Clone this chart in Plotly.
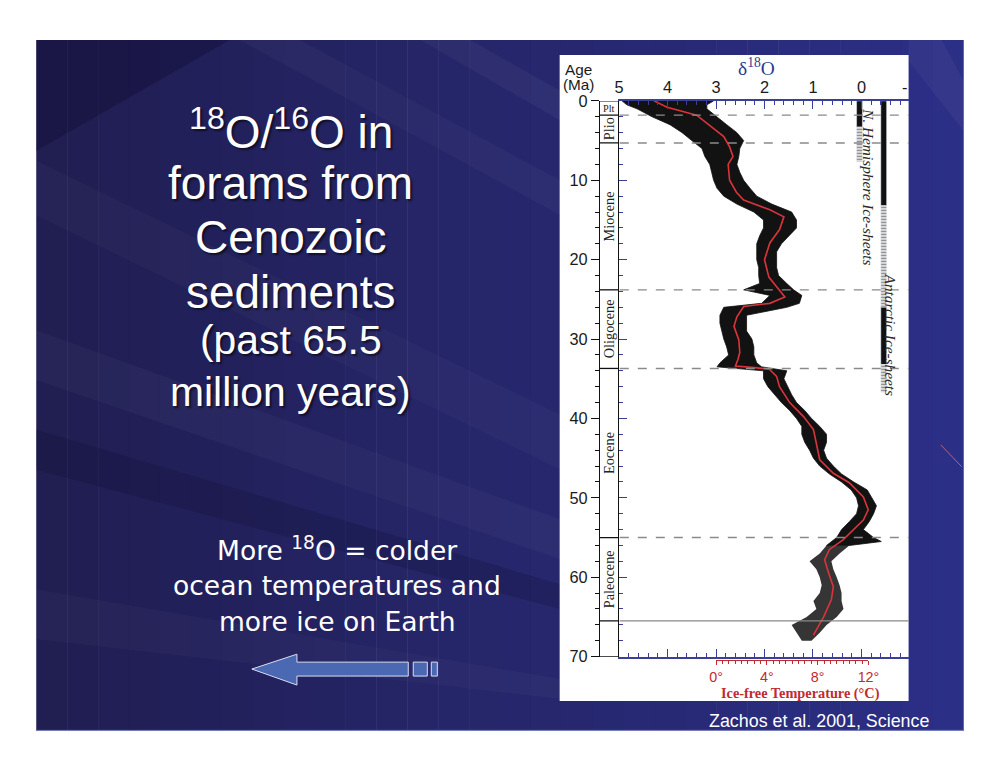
import plotly.graph_objects as go

# page geometry: body margin of 8px, and the photographed page comes out scaled by ~0.979,
# so positions are given in reference-picture pixels and converted below
OFF = 8
S = 0.979
W, H = 980, 748

# ---------------- data ----------------
age_ticks = [0, 10, 20, 30, 40, 50, 60, 70]
d18o_ticks = [5, 4, 3, 2, 1, 0]
temp_ticks = [0, 4, 8, 12]
temp_labels = ["0°", "4°", "8°", "12°"]

# smoothed (red) curve: age (Ma) and delta18O (per mil)
smooth_age = [0, 0.8, 1.8, 2.6, 3.4, 4.5, 5.8, 7.0, 8.0, 10.0, 11.5, 12.5, 13.7, 14.6, 16.2, 17.9, 20.0,
              22.2, 23.4, 24.7, 25.5, 25.9, 27.2, 28.4, 30.1, 31.7, 32.6, 33.4, 33.6, 33.8, 34.7, 36.0,
              38.0, 39.8, 41.4, 43.1, 45.2, 46.9, 48.1, 49.9, 51.5, 52.8, 54.0, 55.3, 56.5, 57.8, 59.4,
              61.2, 62.8, 65.0, 67.3]
smooth_d18o = [4.28, 4.01, 3.40, 3.23, 3.05, 2.84, 2.72, 2.65, 2.75, 2.72, 2.58, 2.43, 1.89, 1.60, 1.69,
               1.89, 2.00, 1.91, 1.75, 1.58, 1.89, 2.43, 2.57, 2.63, 2.53, 2.51, 2.55, 2.60, 2.20, 1.90,
               1.75, 1.69, 1.48, 1.19, 0.99, 0.93, 0.86, 0.58, 0.25, -0.04, -0.14, -0.04, 0.16, 0.38,
               0.66, 0.76, 0.68, 0.58, 0.62, 0.78, 0.99]

# envelope of the raw data cloud (black): heavy edge and light edge
env_age = [0, 0.5, 1, 2, 3, 4, 5, 6, 7, 8, 9, 10, 11, 12, 13, 14, 15, 16, 17, 18, 19, 20, 21, 22, 23,
           23.8, 24.5, 25.5, 26, 27, 28, 29, 30, 31, 32, 33, 33.5, 34, 35, 36, 37, 38, 39, 40, 41, 42,
           43, 44, 45, 46, 47, 48, 49, 50, 51, 52, 53, 54, 55, 55.5, 56, 57, 58, 59, 60, 61, 62, 63,
           64, 65, 66, 67, 68]
env_high = [4.94, 4.84, 4.63, 4.32, 3.95, 3.70, 3.50, 3.29, 3.23, 3.13, 3.09, 3.05, 2.98, 2.84, 2.57,
            2.22, 2.02, 2.02, 2.10, 2.16, 2.16, 2.16, 2.12, 2.12, 2.10, 2.43, 1.89, 2.06, 2.84, 2.92,
            2.92, 2.88, 2.84, 2.78, 2.74, 2.92, 2.98, 2.02, 2.02, 1.93, 1.79, 1.65, 1.48, 1.34, 1.23,
            1.23, 1.17, 1.07, 0.99, 0.86, 0.66, 0.41, 0.21, 0.10, 0.06, 0.10, 0.25, 0.41, 0.51, 0.62,
            0.72, 0.86, 1.07, 0.93, 0.86, 0.82, 0.86, 0.99, 0.93, 1.13, 1.44, 1.34, 1.23]
env_low = [3.05, 3.19, 3.19, 2.98, 2.78, 2.57, 2.43, 2.51, 2.53, 2.57, 2.51, 2.43, 2.30, 2.16, 1.85,
           1.44, 1.34, 1.34, 1.50, 1.65, 1.75, 1.75, 1.75, 1.71, 1.54, 1.40, 1.23, 1.28, 1.54, 2.37,
           2.37, 2.37, 2.26, 2.22, 2.22, 2.16, 2.06, 1.54, 1.60, 1.52, 1.44, 1.34, 1.17, 1.03, 0.86,
           0.72, 0.72, 0.78, 0.72, 0.58, 0.41, 0.16, -0.12, -0.21, -0.31, -0.25, -0.16, -0.04, -0.25,
           -0.41, 0.25, 0.45, 0.62, 0.58, 0.51, 0.45, 0.41, 0.41, 0.37, 0.51, 0.72, 0.86, 1.03]

# epochs
epoch_names = ["Plt", "Plio", "Miocene", "Oligocene", "Eocene", "Paleocene"]
epoch_start = [0, 1.8, 5.3, 23.8, 33.7, 55.0]
epoch_end = [1.8, 5.3, 23.8, 33.7, 55.0, 65.5]

# ice-sheet bars (age ranges)
nh_start = [0.0, 3.3]
nh_end = [3.3, 7.7]
nh_kind = ["solid", "hatch"]
aa_start = [0.0, 13.2, 26.0, 33.2]
aa_end = [13.2, 26.0, 33.2, 36.7]
aa_kind = ["solid", "hatch", "solid", "hatch"]
nh_pos, aa_pos = 0.04, -0.46

# ---------------- helpers (reference pixels -> paper coords) ----------------
def px(x):
    return (x / S - OFF) / W


def py(y):
    return 1 - (y / S - OFF) / H


def f(v):
    return v / S


BLUE_AX = "#3a3f98"
RED = "#c22a30"
SANS = "Liberation Sans, Arial, sans-serif"
NARROW = "Liberation Sans Narrow, Arial Narrow, Liberation Sans, Arial"
SERIF = "Liberation Serif, Times New Roman, serif"

fig = go.Figure()

# black data cloud: dense part solid, sparse older part lighter
cut = env_age.index(56)
a1, h1, l1 = env_age[:cut + 1], env_high[:cut + 1], env_low[:cut + 1]
a2, h2, l2 = env_age[cut:], env_high[cut:], env_low[cut:]
fig.add_trace(go.Scatter(x=h1 + l1[::-1], y=a1 + a1[::-1], fill="toself", fillcolor="#121212",
                         mode="lines", line=dict(color="#121212", width=0.8), hoverinfo="skip"))
fig.add_trace(go.Scatter(x=h2 + l2[::-1], y=a2 + a2[::-1], fill="toself", fillcolor="rgba(18,18,18,0.85)",
                         mode="lines", line=dict(width=0), hoverinfo="skip"))
# red smoothed curve
fig.add_trace(go.Scatter(x=smooth_d18o, y=smooth_age, mode="lines",
                         line=dict(color="#d8343a", width=f(1.6)), hoverinfo="skip"))

# ice-sheet bars
def add_bars(pos, starts, ends, kinds):
    for s, e, k in zip(starts, ends, kinds):
        if k == "solid":
            marker = dict(color="#111111")
        else:
            marker = dict(color="white", pattern=dict(shape="-", fgcolor="#111111", bgcolor="white",
                                                      size=3, solidity=0.55))
        fig.add_trace(go.Bar(x=[pos], y=[e - s], base=[s], width=0.12, marker=marker,
                             hoverinfo="skip"))


add_bars(nh_pos, nh_start, nh_end, nh_kind)
add_bars(aa_pos, aa_start, aa_end, aa_kind)

# dummy traces so the extra axes exist
fig.add_trace(go.Scatter(x=temp_ticks, y=[None] * len(temp_ticks), xaxis="x2", yaxis="y",
                         mode="markers", hoverinfo="skip"))
fig.add_trace(go.Scatter(x=[None] * len(age_ticks), y=age_ticks, xaxis="x", yaxis="y2",
                         mode="markers", hoverinfo="skip"))

# ---------------- shapes ----------------
shapes = []
x0s, x1s = 37, 962
n = 30
c0 = (0x21, 0x1e, 0x52)
c1 = (0x2c, 0x2f, 0x86)
for i in range(n):
    t = i / (n - 1)
    c = tuple(int(c0[k] + (c1[k] - c0[k]) * t) for k in range(3))
    xa = x0s + (x1s - x0s) * i / n
    xb = x0s + (x1s - x0s) * (i + 1) / n + 0.5
    shapes.append(dict(type="rect", xref="paper", yref="paper", x0=px(xa), x1=px(min(xb, x1s)),
                       y0=py(732), y1=py(39), fillcolor="rgb(%d,%d,%d)" % c, line=dict(width=0),
                       layer="below"))


def poly(pts, fill):
    d = "M " + " L ".join("%.4f,%.4f" % (px(x), py(y)) for x, y in pts) + " Z"
    shapes.append(dict(type="path", path=d, xref="paper", yref="paper", fillcolor=fill,
                       line=dict(width=0), layer="below"))


# diagonal streaks (subtle)
poly([(37, 39), (230, 39), (37, 150)], "rgba(10,8,40,0.30)")
poly([(240, 39), (300, 39), (560, 180), (560, 215)], "rgba(255,255,255,0.03)")
poly([(420, 39), (470, 39), (560, 90), (560, 120)], "rgba(255,255,255,0.04)")
poly([(37, 160), (37, 215), (560, 470), (560, 415)], "rgba(255,255,255,0.025)")
poly([(37, 330), (37, 380), (560, 560), (560, 520)], "rgba(255,255,255,0.03)")
poly([(37, 430), (37, 470), (560, 610), (560, 585)], "rgba(10,8,40,0.20)")
poly([(37, 590), (37, 640), (560, 700), (560, 680)], "rgba(255,255,255,0.025)")
poly([(907, 39), (940, 39), (962, 80), (962, 130), (907, 60)], "rgba(255,255,255,0.04)")
shapes.append(dict(type="line", xref="paper", yref="paper", x0=px(37), x1=px(962), y0=py(731.5),
                   y1=py(731.5), line=dict(color="#8088c0", width=1), layer="below"))
shapes.append(dict(type="line", xref="paper", yref="paper", x0=px(939), x1=px(960), y0=py(445),
                   y1=py(467), line=dict(color="#b0648c", width=1), layer="below"))
# white chart panel
shapes.append(dict(type="rect", xref="paper", yref="paper", x0=px(559), x1=px(907), y0=py(702),
                   y1=py(54), fillcolor="white", line=dict(width=0), layer="below"))

# epoch column lines
col_l, col_r = px(598.3), px(618.3)
for a in [0] + epoch_end + [70]:
    shapes.append(dict(type="line", xref="paper", yref="y", x0=col_l, x1=col_r, y0=a, y1=a,
                       line=dict(color="#111111", width=1.3)))
for a in epoch_end[:-1]:
    shapes.append(dict(type="line", xref="paper", yref="y", x0=px(619), x1=px(907), y0=a, y1=a,
                       line=dict(color="#8a8a8a", width=1.4, dash="dash")))
shapes.append(dict(type="line", xref="paper", yref="y", x0=px(619), x1=px(907), y0=epoch_end[-1],
                   y1=epoch_end[-1], line=dict(color="#8a8a8a", width=1.4)))

# arrow
arrow = [(252, 670), (297, 655), (297, 663), (408, 663), (408, 677), (297, 677), (297, 686)]
d = "M " + " L ".join("%.4f,%.4f" % (px(x), py(y)) for x, y in arrow) + " Z"
shapes.append(dict(type="path", path=d, xref="paper", yref="paper", fillcolor="#4b69b2",
                   line=dict(color="#d8def0", width=1)))
for xa, xb in [(413, 427), (431, 437)]:
    shapes.append(dict(type="rect", xref="paper", yref="paper", x0=px(xa), x1=px(xb), y0=py(677),
                       y1=py(663), fillcolor="#4b69b2", line=dict(color="#d8def0", width=1)))

# ---------------- annotations ----------------
ann = []


def txt(text, x, y, size, color="white", family=SANS, xanchor="center", yanchor="middle",
        angle=0, shadow=None, xref="paper", yref="paper"):
    fo = dict(size=f(size), color=color, family=family)
    if shadow:
        fo["shadow"] = shadow
    ann.append(dict(text=text, x=x, y=y, xref=xref, yref=yref, showarrow=False, font=fo,
                    xanchor=xanchor, yanchor=yanchor, textangle=angle))


SH = "2px 2px 2px rgba(0,0,0,0.55)"
title_lines = [("<sup>18</sup>O/<sup>16</sup>O in", 128, 45), ("forams from", 182, 45),
               ("Cenozoic", 237, 45), ("sediments", 292, 45), ("(past 65.5", 340, 40),
               ("million years)", 392, 40)]
for t, yy, s in title_lines:
    txt(t, px(291), py(yy), s, shadow=SH)

for t, yy in [("More <sup>18</sup>O = colder", 550), ("ocean temperatures and", 586),
              ("more ice on Earth", 622)]:
    txt(t, px(337), py(yy), 26, family="DejaVu Sans, Verdana, sans-serif")

txt("Zachos et al. 2001, Science", px(818), py(722), 17.5)

txt("Age", px(562), py(69), 15, color="#1a1a1a", family=NARROW, xanchor="left")
txt("(Ma)", px(560), py(84), 15, color="#1a1a1a", family=NARROW, xanchor="left")
txt("δ<sup>18</sup>O", px(755), py(66), 19, color="#2b3a8f", family=SERIF)
txt("-", px(907), py(86), 16, color="#1a1a1a", family=NARROW, xanchor="right")

for name, s, e in zip(epoch_names, epoch_start, epoch_end):
    if name == "Plt":
        txt(name, px(608.3), (s + e) / 2, 10, color="#222", family=SERIF, yref="y")
    else:
        txt(name, px(608.3), (s + e) / 2, 14, color="#222", family=SERIF, angle=-90, yref="y")

txt("<i>N. Hemisphere Ice-sheets</i>", px(867), py(186), 15, color="#2a2a2a", family=SERIF, angle=90)
txt("<i>Antarctic Ice-sheets</i>", px(889), py(334), 15, color="#2a2a2a", family=SERIF, angle=90)
txt("<b>Ice-free Temperature (°C)</b>", px(799), py(694), 14, color=RED, family=SERIF)

# ---------------- layout ----------------
ydom = [py(657.5), py(100)]
fig.update_layout(
    width=W, height=H, margin=dict(l=0, r=0, t=0, b=0), autosize=False,
    paper_bgcolor="white", plot_bgcolor="rgba(0,0,0,0)", showlegend=False,
    barmode="overlay", shapes=shapes, annotations=ann,
    xaxis=dict(domain=[px(618.3), px(907)], range=[5, -0.973], side="top", anchor="y",
               showline=True, linecolor=BLUE_AX, linewidth=1.6, mirror="ticks",
               ticks="inside", ticklen=8, tickwidth=1.3, tickcolor=BLUE_AX,
               tickmode="array", tickvals=d18o_ticks, ticktext=[str(v) for v in d18o_ticks],
               tickfont=dict(family=NARROW, size=f(16), color="#1a1a1a"),
               minor=dict(dtick=0.2, tick0=0, ticks="inside", ticklen=4, tickcolor=BLUE_AX),
               showgrid=False, zeroline=False, fixedrange=True),
    xaxis2=dict(domain=[px(715), px(867)], range=[0, 12], anchor="free", position=py(661),
                side="bottom", showline=True, linecolor=RED, linewidth=1.3,
                ticks="outside", ticklen=4, tickcolor=RED, tickwidth=1.2,
                tickmode="array", tickvals=temp_ticks, ticktext=temp_labels,
                tickfont=dict(family=SANS, size=f(14), color=RED),
                minor=dict(dtick=0.5, tick0=0, ticks="outside", ticklen=3, tickcolor=RED),
                showgrid=False, zeroline=False, fixedrange=True),
    yaxis=dict(domain=ydom, range=[70, 0], anchor="x", side="left", showline=True,
               linecolor="#111111", linewidth=1.3, ticks="inside", ticklen=8, tickwidth=1.3,
               tickcolor=BLUE_AX, tickmode="array", tickvals=age_ticks, showticklabels=False,
               minor=dict(dtick=2, tick0=0, ticks="inside", ticklen=4, tickcolor=BLUE_AX),
               showgrid=False, zeroline=False, fixedrange=True),
    yaxis2=dict(overlaying="y", anchor="free", position=px(598.3), side="left", range=[70, 0],
                showline=True, linecolor="#111111", linewidth=1.3, ticks="outside", ticklen=8,
                tickwidth=1.3, tickcolor="#111111", tickmode="array", tickvals=age_ticks,
                tickfont=dict(family=SANS, size=f(16), color="#1a1a1a"),
                minor=dict(dtick=2, tick0=0, ticks="outside", ticklen=4, tickcolor="#111111"),
                showgrid=False, zeroline=False, fixedrange=True),
)

fig.write_html("out.html")
